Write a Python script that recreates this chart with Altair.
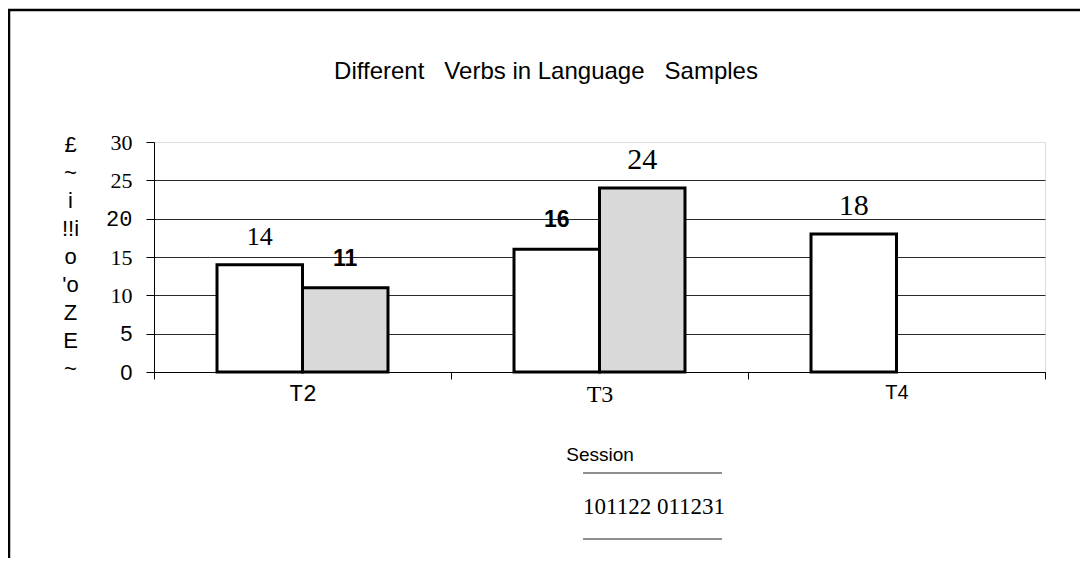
import altair as alt
import pandas as pd

# ---- data ----
sessions = ["T2", "T2", "T3", "T3", "T4"]
series = ["101122", "011231", "101122", "011231", "101122"]
values = [14, 11, 16, 24, 18]
series_names = ["101122", "011231"]
session_names = ["T2", "T3", "T4"]
y_ticks = [0, 5, 10, 15, 20, 25, 30]
y_title_lines = ["£", "~", "i", "!!i", "o", "'o", "Z", "E", "~"]
title_words = ["Different", "Verbs in Language", "Samples"]
x_title = "Session"

df = pd.DataFrame({"session": sessions, "series": series, "value": values})

W, H = 891, 230
SERIF = "Liberation Serif"
SANS = "Liberation Sans"
MONO = "Liberation Mono"
NBSP3 = "\u00a0\u00a0\u00a0"

x_enc = alt.X(
    "session:N",
    scale=alt.Scale(domain=session_names, paddingInner=0, paddingOuter=0),
    axis=alt.Axis(
        title=x_title,
        titleFont=SANS,
        titleFontSize=19,
        titleFontWeight="normal",
        titlePadding=39,
        titleColor="black",
        labelAngle=0,
        labelFontSize={
            "condition": [
                {"test": "datum.value == 'T2'", "value": 23},
                {"test": "datum.value == 'T3'", "value": 24},
            ],
            "value": 20,
        },
        labelPadding=3,
        labelFont={
            "condition": [
                {"test": "datum.value == 'T2'", "value": MONO},
                {"test": "datum.value == 'T3'", "value": SERIF},
            ],
            "value": SANS,
        },
        labelColor="black",
        tickBand="extent",
        tickSize=7,
        tickColor="black",
        domainColor="black",
        grid=False,
    ),
)
xoff_enc = alt.XOffset(
    "series:N", scale=alt.Scale(domain=series_names, paddingInner=0, paddingOuter=0.737)
)
y_enc = alt.Y(
    "value:Q",
    scale=alt.Scale(domain=[0, 30], nice=False),
    axis=alt.Axis(
        values=y_ticks,
        title=y_title_lines,
        titleAngle=0,
        titleFont=SANS,
        titleFontSize=22,
        titleFontWeight="normal",
        titleColor="black",
        titleLineHeight=28,
        titleAlign="center",
        titleBaseline="top",
        titleX=-84,
        titleY=-8,
        labelFontSize=22,
        labelPadding=14,
        labelColor="black",
        labelOverlap=False,
        labelFont={
            "condition": [
                {"test": "datum.value == 20", "value": MONO},
                {"test": "datum.value == 5 || datum.value == 0", "value": SANS},
            ],
            "value": SERIF,
        },
        tickSize=8,
        tickColor="black",
        domainColor="black",
        grid=True,
        gridColor="#2a2a2a",
        gridWidth=1.2,
        gridOpacity={"condition": {"test": "datum.value == 30", "value": 0}, "value": 1},
    ),
)

bars = alt.Chart(df).mark_bar(stroke="black", strokeWidth=3).encode(
    x=x_enc,
    xOffset=xoff_enc,
    y=y_enc,
    color=alt.Color(
        "series:N",
        scale=alt.Scale(domain=series_names, range=["white", "#d9d9d9"]),
        legend=None,
    ),
)

label_base = alt.Chart(df).encode(
    x=x_enc, xOffset=xoff_enc, y=y_enc, text=alt.Text("value:Q"),
)
labels_serif = label_base.transform_filter(
    "datum.value != 11 && datum.value != 16"
).mark_text(font=SERIF, baseline="middle", dy=-28, color="black").encode(
    size=alt.condition("datum.value == 14", alt.value(26), alt.value(30))
)
labels_bold = label_base.transform_filter(
    "datum.value == 11 || datum.value == 16"
).mark_text(font=SANS, fontSize=23, fontWeight="bold", baseline="middle", dy=-29, color="black")

one = alt.Data(values=[{}])
title_mark = alt.Chart(one).mark_text(
    font=SANS, fontSize=24, color="black", baseline="middle", align="center"
).encode(x=alt.value(392), y=alt.value(-70), text=alt.value(NBSP3.join(title_words)))
legend_text = alt.Chart(one).mark_text(
    font=SERIF, fontSize=23, color="black", baseline="middle", align="center"
).encode(x=alt.value(500), y=alt.value(365), text=alt.value(" ".join(series_names)))
legend_top = alt.Chart(one).mark_rule(color="#222", strokeWidth=1.2).encode(
    x=alt.value(429), x2=alt.value(568), y=alt.value(331)
)
legend_bot = alt.Chart(one).mark_rule(color="#222", strokeWidth=1.2).encode(
    x=alt.value(429), x2=alt.value(568), y=alt.value(397)
)
frame_top = alt.Chart(one).mark_rule(color="black", strokeWidth=2.5).encode(
    x=alt.value(-146), x2=alt.value(940), y=alt.value(-132)
)
frame_left = alt.Chart(one).mark_rule(color="black", strokeWidth=2.5).encode(
    x=alt.value(-145), y=alt.value(-132), y2=alt.value(430)
)

chart = alt.layer(
    bars, labels_serif, labels_bold, title_mark, legend_text, legend_top, legend_bot,
    frame_top, frame_left
).properties(
    width=W,
    height=H,
    autosize=alt.AutoSizeParams(type="none"),
    padding={"left": 146, "top": 134, "right": 35, "bottom": 186},
).configure_view(stroke=None).configure(background="white")

chart.save("out.html", embed_options={"renderer": "svg", "actions": False})
